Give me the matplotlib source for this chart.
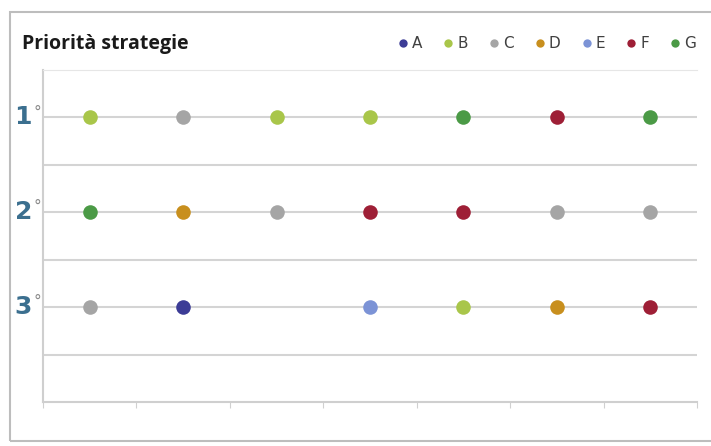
import matplotlib.pyplot as plt
from matplotlib.patches import Rectangle
from matplotlib.lines import Line2D

# strategie in ordine di priorita' per ciascuna colonna (None = vuoto)
strategie = ['A', 'B', 'C', 'D', 'E', 'F', 'G']
colori = ['#3C3C96', '#A9C64A', '#A5A5A5', '#C88F1E', '#7C93D6', '#9E1F36', '#4B9A46']
primo = ['B', 'C', 'B', 'B', 'G', 'F', 'G']
secondo = ['G', 'D', 'C', 'F', 'F', 'C', 'C']
terzo = ['C', 'A', None, 'E', 'B', 'D', 'F']
livelli = [3, 2, 1]
etichette_y = ['3', '2', '1']

fig = plt.figure(figsize=(7.11, 4.46), dpi=100)
ax = fig.add_axes([43/711, 1-402/446, 654/711, 332/446])

for lettera, col in zip(strategie, colori):
    xs, ys = [], []
    for riga, liv in zip([primo, secondo, terzo], livelli):
        for i, s in enumerate(riga):
            if s == lettera:
                xs.append(i + 0.5)
                ys.append(liv)
    ax.scatter(xs, ys, s=110, color=col, zorder=3, linewidths=0)

ax.set_xlim(0, 7)
ax.set_ylim(0, 3.5)
ax.set_yticks([0.5, 1, 1.5, 2, 2.5, 3])
ax.set_yticklabels(['', etichette_y[0], '', etichette_y[1], '', etichette_y[2]],
                   fontsize=18, fontweight='bold', color='#3B6F8F', va='center')
ax.tick_params(axis='y', length=0, pad=8)
for lab in ax.get_yticklabels():
    lab.set_y(lab.get_position()[1])
for liv in [1, 2, 3]:
    ax.annotate('°', xy=(0, liv), xycoords=('axes fraction', 'data'),
                xytext=(-4, 4), textcoords='offset points', fontsize=11,
                color='#8A8A8A', ha='center', va='center')
ax.set_xticks(range(8))
ax.set_xticklabels([])
ax.tick_params(axis='x', length=4, color='#D0D0D0', direction='out')
ax.grid(axis='y', color='#D4D4D4', linewidth=1.5, zorder=0)
for sp in ['left', 'bottom']:
    ax.spines[sp].set_color('#CFCFCF')
    ax.spines[sp].set_linewidth(1.5)
ax.spines['right'].set_visible(False)
ax.spines['top'].set_color('#E6E6E6')

fig.text(22/711, 1-44/446, 'Priorità strategie', fontsize=14, fontweight='bold',
         color='#1A1A1A', va='center', family='Open Sans')

handles = [Line2D([], [], marker='o', linestyle='', markersize=6,
                  markerfacecolor=c, markeredgewidth=0) for c in colori]
fig.legend(handles, strategie, loc='center right', bbox_to_anchor=(710/711, 1-44/446),
           ncol=7, frameon=False, fontsize=11, handletextpad=0.2,
           columnspacing=1.3, handlelength=0.8, labelcolor='#404040')

fig.patches.append(Rectangle((10/711, 1-441/446), 0.99, 429/446, transform=fig.transFigure,
                             fill=False, edgecolor='#BDBDBD', linewidth=1.5))

fig.savefig('out.png', dpi=100)
